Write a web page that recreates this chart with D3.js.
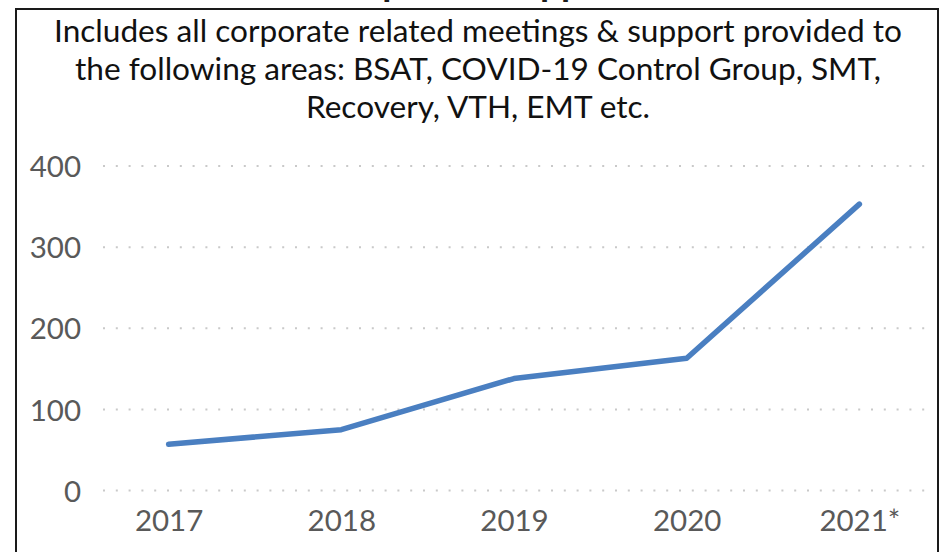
<!DOCTYPE html>
<html>
<head>
<meta charset="utf-8">
<script src="https://cdn.jsdelivr.net/npm/d3@7"></script>
<style>
  html, body { margin: 0; padding: 0; background: #fff; }
  svg { display: block; }
</style>
</head>
<body>
<svg id="chart" width="949" height="552"></svg>
<script>
// Yearly count of corporate meetings & support
const categories = ["2017", "2018", "2019", "2020", "2021*"];
const values = [57, 75, 138, 163, 353];
const yTicks = [0, 100, 200, 300, 400];
const titleText = "Corporate Support";
const subtitleLines = [
  "Includes all corporate related meetings & support provided to",
  "the following areas: BSAT, COVID-19 Control Group, SMT,",
  "Recovery, VTH, EMT etc."
];

const W = 949, H = 552;
const font = "Lato, 'Open Sans', sans-serif";
const svg = d3.select("#chart");

const plot = { left: 103, right: 925, top: 166, bottom: 490.5 };

const x = d3.scalePoint()
  .domain(categories)
  .range([plot.left, plot.right])
  .padding(0.38);

const y = d3.scaleLinear()
  .domain([0, 400])
  .range([plot.bottom, plot.top]);

// Chart frame (bottom edge falls outside the view)
svg.append("rect")
  .attr("x", 16).attr("y", 9)
  .attr("width", 922).attr("height", 600)
  .attr("fill", "none")
  .attr("stroke", "#1a1a1a")
  .attr("stroke-width", 2);

// Title, sitting above the frame
svg.append("text")
  .attr("x", 477).attr("y", -4)
  .attr("text-anchor", "middle")
  .attr("font-family", font)
  .attr("font-weight", "bold")
  .attr("font-size", 37)
  .attr("fill", "#1a1a1a")
  .text(titleText);

// Subtitle block
svg.append("g")
  .selectAll("text")
  .data(subtitleLines)
  .join("text")
  .attr("x", 478)
  .attr("y", (d, i) => 42 + i * 38)
  .attr("text-anchor", "middle")
  .attr("font-family", font)
  .attr("font-size", 31.6)
  .attr("fill", "#111")
  .text(d => d);

// Dotted horizontal gridlines
svg.append("g")
  .selectAll("line")
  .data(yTicks)
  .join("line")
  .attr("x1", plot.left).attr("x2", plot.right)
  .attr("y1", d => y(d)).attr("y2", d => y(d))
  .attr("stroke", "#c9c9c9")
  .attr("stroke-width", 2)
  .attr("stroke-dasharray", "2,10.8");

// Value axis
const yAxis = svg.append("g")
  .attr("transform", `translate(${plot.left - 22},0)`)
  .call(d3.axisLeft(y).tickValues(yTicks).tickSize(0).tickPadding(0));
yAxis.select(".domain").remove();
yAxis.selectAll("text")
  .attr("font-family", font)
  .attr("font-size", 29.5)
  .attr("fill", "#595959")
  .attr("dy", "0.36em");

// Category axis
const xAxis = svg.append("g")
  .attr("transform", `translate(0,${plot.bottom})`)
  .call(d3.axisBottom(x).tickSize(0).tickPadding(20));
xAxis.select(".domain").remove();
xAxis.selectAll("text")
  .attr("font-family", font)
  .attr("font-size", 29.5)
  .attr("fill", "#595959")
  .attr("dy", "0.71em");

// Series line
const line = d3.line()
  .x((d, i) => x(categories[i]))
  .y(d => y(d));

svg.append("path")
  .datum(values)
  .attr("d", line)
  .attr("fill", "none")
  .attr("stroke", "#4a7fc1")
  .attr("stroke-width", 5.5)
  .attr("stroke-linecap", "round")
  .attr("stroke-linejoin", "round");
</script>
</body>
</html>
